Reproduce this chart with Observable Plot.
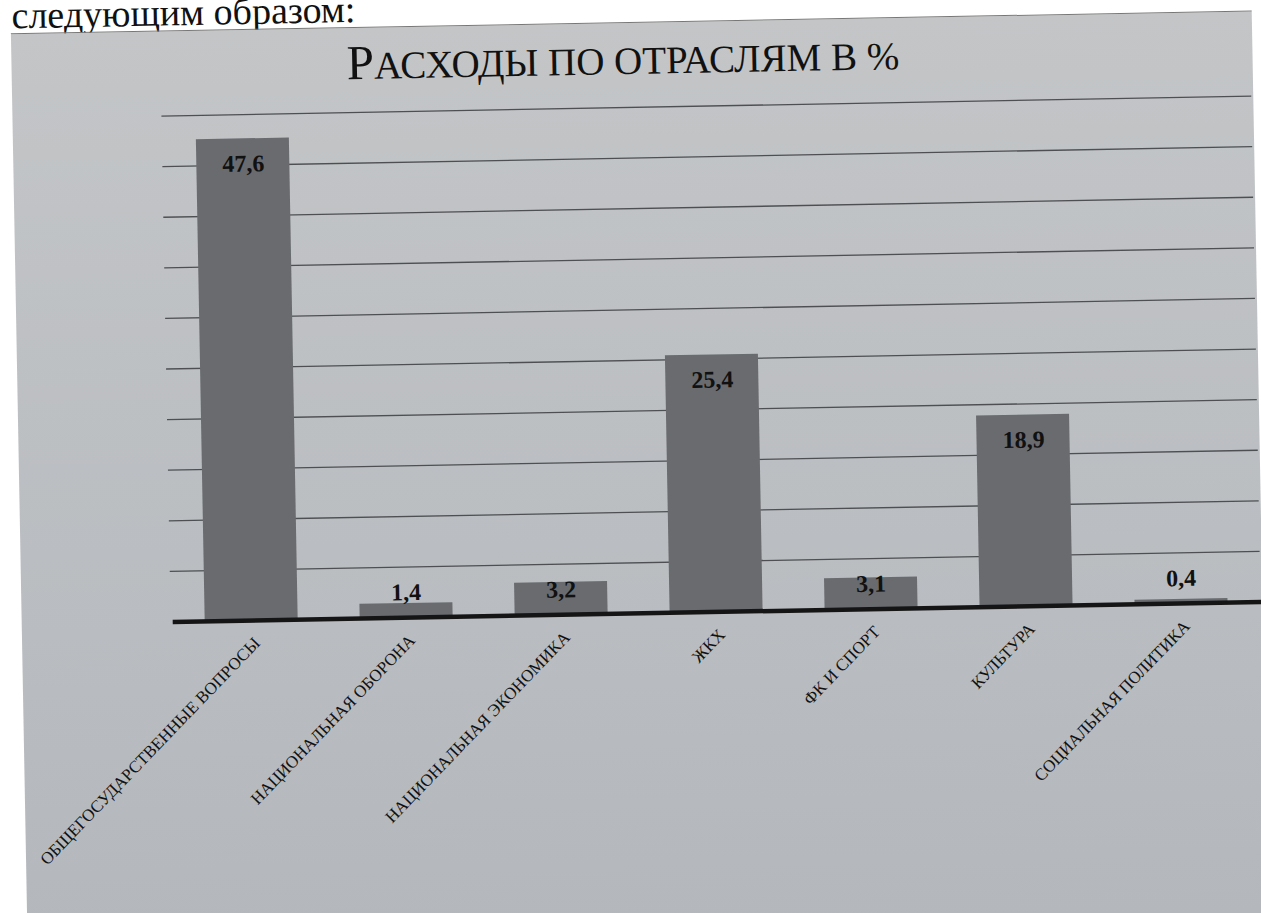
<!DOCTYPE html>
<html><head><meta charset="utf-8">
<script src="https://cdn.jsdelivr.net/npm/d3@7"></script>
<script src="https://cdn.jsdelivr.net/npm/@observablehq/plot@0.6"></script>
<style>
html,body{margin:0;padding:0;background:#fff;}
body{width:1261px;height:913px;overflow:hidden;position:relative;font-family:"Liberation Serif",serif;}
#page{position:absolute;left:0;top:0;width:1261px;height:913px;transform-origin:632px 470px;transform:rotate(-1.05deg);}
#doc{position:absolute;left:20px;top:-16px;font-size:38px;line-height:40px;color:#111;white-space:nowrap;}
#chart{position:absolute;left:19px;top:22px;width:1241px;height:960px;background:linear-gradient(to bottom,#c3c5c7,#b3b7bc);border-top:1px solid #777;}
#title{position:absolute;left:0;top:38px;width:1261px;text-align:center;color:#111;white-space:nowrap;line-height:40px;font-family:"Liberation Serif",serif;}
#title .big{font-size:49px;}
#title .sc{font-size:39px;}
#plot{position:absolute;left:0;top:90px;}
</style>
</head><body>
<div id="page">
  <div id="doc">следующим образом:</div>
  <div id="chart"></div>
  <div id="title"><span class="big">Р</span><span class="sc">АСХОДЫ ПО ОТРАСЛЯМ В %</span></div>
  <div id="plot"></div>
</div>
<script>
const categories = ["ОБЩЕГОСУДАРСТВЕННЫЕ ВОПРОСЫ","НАЦИОНАЛЬНАЯ ОБОРОНА","НАЦИОНАЛЬНАЯ ЭКОНОМИКА","ЖКХ","ФК И СПОРТ","КУЛЬТУРА","СОЦИАЛЬНАЯ ПОЛИТИКА"];
const values = [47.6, 1.4, 3.2, 25.4, 3.1, 18.9, 0.4];
const gridTicks = [5,10,15,20,25,30,35,40,45,50];

const data = categories.map((c,i)=>({cat:c, v:values[i], label:String(values[i]).replace(".", ",")}));

const chart = Plot.plot({
  width: 1261,
  height: 823,
  marginTop: 17,
  marginBottom: 300,
  marginLeft: 168,
  marginRight: 3,
  style: {fontFamily: "Liberation Serif, serif", background: "transparent", color: "#111", overflow: "visible"},
  x: {domain: categories, paddingInner: 0.4, paddingOuter: 0.215, label: null},
  y: {domain: [0, 50], axis: null},
  marks: [
    Plot.ruleY(gridTicks, {stroke: "#4d4f52", strokeWidth: 1.3}),
    Plot.barY(data, {x: "cat", y: "v", fill: "#696b6f"}),
    Plot.ruleY([0], {stroke: "#151515", strokeWidth: 4.5, insetLeft: 2, insetRight: -3}),
    Plot.text(data, {filter: d => d.v > 5, x: "cat", y: "v", text: "label", dy: 25,
      fontWeight: "bold", fontSize: 24, fill: "#111", lineAnchor: "middle"}),
    Plot.text(data, {filter: d => d.v <= 5, x: "cat", y: () => 0, text: "label", dy: -25,
      fontWeight: "bold", fontSize: 24, fill: "#111", lineAnchor: "middle"}),
    Plot.axisX({tickRotate: -45, tickSize: 0, tickPadding: 20, dx: 5, fontSize: 17, label: null, fill: "#111"})
  ]
});
document.getElementById("plot").appendChild(chart);
</script>
</body></html>
